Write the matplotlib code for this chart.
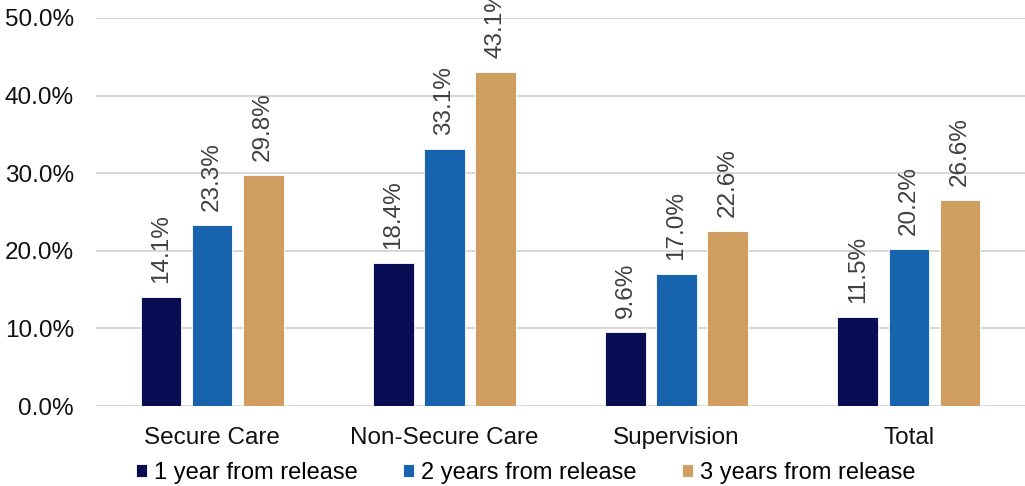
import matplotlib.pyplot as plt
import numpy as np

plt.rcParams['font.family'] = ['Liberation Sans', 'DejaVu Sans']

categories = ['Secure Care', 'Non-Secure Care', 'Supervision', 'Total']
series_names = ['1 year from release', '2 years from release', '3 years from release']
one_year = [14.1, 18.4, 9.6, 11.5]
two_years = [23.3, 33.1, 17.0, 20.2]
three_years = [29.8, 43.1, 22.6, 26.6]
colors = ['#080c52', '#1763ae', '#cf9e60']

fig = plt.figure(figsize=(10.25, 4.86), dpi=100)
ax = fig.add_axes([96 / 1025, 80 / 486, 929 / 1025, 388 / 486])

x = np.arange(len(categories))
width = 0.175
step = 0.22
for i, (vals, name, c) in enumerate(zip([one_year, two_years, three_years], series_names, colors)):
    bars = ax.bar(x + (i - 1) * step, vals, width, color=c, label=name,
                  edgecolor='white', linewidth=0.6, zorder=3)
    for b, v in zip(bars, vals):
        ax.annotate(f'{v:.1f}%', (b.get_x() + b.get_width() / 2, v),
                    xytext=(0, 10), textcoords='offset points',
                    rotation=90, ha='center', va='bottom',
                    fontsize=17.5, color='#404040', zorder=4)

ax.set_xlim(-0.5, 3.5)
ax.set_ylim(0, 50)
ax.set_yticks(np.arange(0, 51, 10))
ax.set_yticklabels([f'{t:.1f}%' for t in range(0, 51, 10)])
ax.set_xticks(x)
ax.set_xticklabels(categories)
ax.tick_params(axis='both', length=0, labelsize=17.5, colors='#111111')
ax.tick_params(axis='y', pad=16)
ax.tick_params(axis='x', pad=15)
ax.grid(axis='y', color='#d9d9d9', linewidth=1.5, zorder=0)
for s in ax.spines.values():
    s.set_visible(False)

fig.legend(loc='center', bbox_to_anchor=(0.513, 0.026), ncol=3, frameon=False,
           fontsize=17, handlelength=0.47, handleheight=0.47, handletextpad=0.3,
           columnspacing=1.9, borderpad=0)

fig.savefig('out.png', dpi=100)
